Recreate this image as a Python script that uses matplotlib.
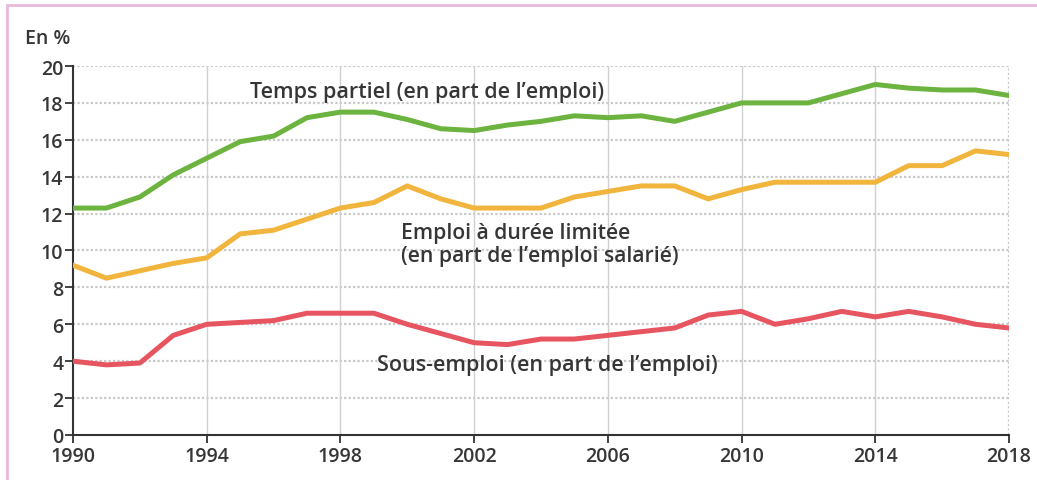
import matplotlib
matplotlib.use("Agg")
import matplotlib.pyplot as plt
from matplotlib.patches import Rectangle

years = list(range(1990, 2019))
temps_partiel = [12.3, 12.3, 12.9, 14.1, 15.0, 15.9, 16.2, 17.2, 17.5, 17.5,
                 17.1, 16.6, 16.5, 16.8, 17.0, 17.3, 17.2, 17.3, 17.0, 17.5,
                 18.0, 18.0, 18.0, 18.5, 19.0, 18.8, 18.7, 18.7, 18.4]
duree_limitee = [9.2, 8.5, 8.9, 9.3, 9.6, 10.9, 11.1, 11.7, 12.3, 12.6,
                 13.5, 12.8, 12.3, 12.3, 12.3, 12.9, 13.2, 13.5, 13.5, 12.8,
                 13.3, 13.7, 13.7, 13.7, 13.7, 14.6, 14.6, 15.4, 15.2]
sous_emploi = [4.0, 3.8, 3.9, 5.4, 6.0, 6.1, 6.2, 6.6, 6.6, 6.6,
               6.0, 5.5, 5.0, 4.9, 5.2, 5.2, 5.4, 5.6, 5.8, 6.5,
               6.7, 6.0, 6.3, 6.7, 6.4, 6.7, 6.4, 6.0, 5.8]
y_ticks = list(range(0, 21, 2))
x_ticks = [1990, 1994, 1998, 2002, 2006, 2010, 2014, 2018]

plt.rcParams['font.family'] = ['Open Sans', 'DejaVu Sans']
txt = '#363636'
W = 'semibold'

fig = plt.figure(figsize=(10.37, 4.81), dpi=100)
ax = fig.add_axes([0.0704, 0.0936, 0.9026, 0.7671])

fig.patches.append(Rectangle((0.0068, -0.05), 1.05, 1.037, transform=fig.transFigure,
                             fill=False, edgecolor='#e9b8da', linewidth=2.0))

for y in y_ticks[1:]:
    ax.axhline(y, color='#c8c8c8', linewidth=1.6, linestyle=(0, (1, 1)), zorder=1)
for x in x_ticks[1:-1]:
    ax.axvline(x, color='#d0d0d0', linewidth=1.0, zorder=1)
ax.axvline(2018, color='#c8c8c8', linewidth=1.6, linestyle=(0, (1, 1)), zorder=1)

ax.plot(years, temps_partiel, color='#6cb33f', linewidth=3.6, zorder=3)
ax.plot(years, duree_limitee, color='#f1b43c', linewidth=3.6, zorder=3)
ax.plot(years, sous_emploi, color='#e65560', linewidth=3.6, zorder=3)

ax.set_xlim(1990, 2018)
ax.set_ylim(0, 20)
ax.set_xticks(x_ticks)
ax.set_yticks(y_ticks)
ax.tick_params(axis='both', labelsize=14, colors='#333333', labelcolor=txt,
               length=6, width=1.3, direction='out')
ax.tick_params(axis='x', pad=2)
ax.tick_params(axis='y', pad=1)
for lab in ax.get_xticklabels() + ax.get_yticklabels():
    lab.set_fontweight(W)
for s in ['top', 'right']:
    ax.spines[s].set_visible(False)
for s in ['left', 'bottom']:
    ax.spines[s].set_color('#333333')
    ax.spines[s].set_linewidth(1.5)

ax.text(1995.3, 18.6, "Temps partiel (en part de l’emploi)", fontsize=15.5, color=txt,
        va='center', ha='left', fontweight=W)
ax.text(1999.8, 10.35, "Emploi à durée limitée\n(en part de l’emploi salarié)", fontsize=15.2,
        color=txt, va='center', ha='left', linespacing=1.15, fontweight=W)
ax.text(1999.1, 3.8, "Sous-emploi (en part de l’emploi)", fontsize=15.5, color=txt,
        va='center', ha='left', fontweight=W)

fig.text(25 / 1037, 1 - 39 / 481, "En %", fontsize=14, color=txt, va='center', ha='left',
         fontweight=W)

fig.savefig('out.png', dpi=100)
